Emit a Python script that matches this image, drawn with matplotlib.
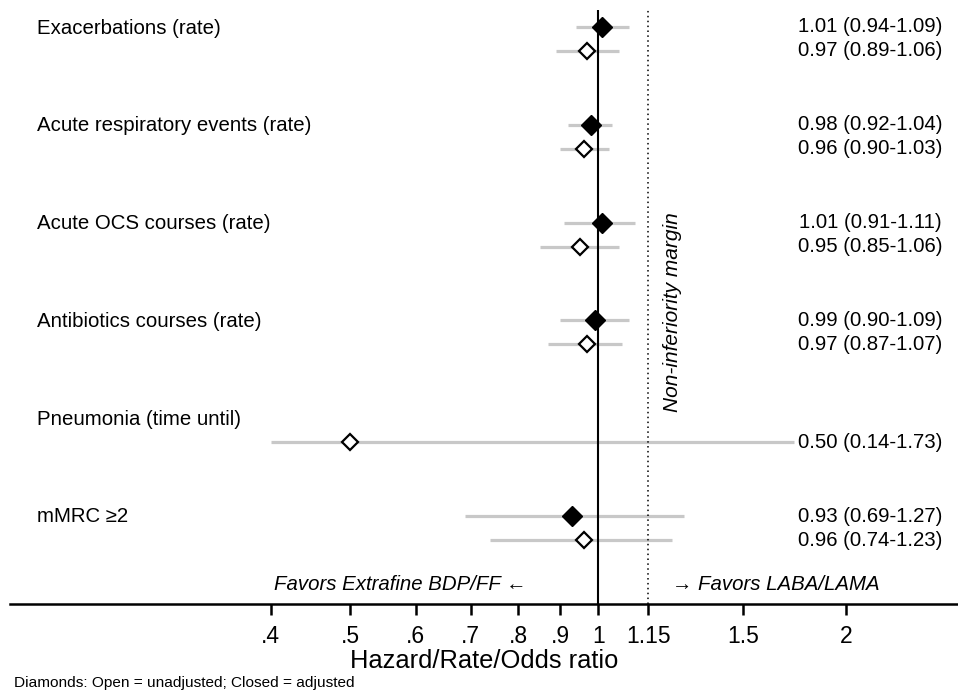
import numpy as np
import matplotlib
matplotlib.use("Agg")
import matplotlib.pyplot as plt
from matplotlib.transforms import blended_transform_factory

plt.rcParams['font.family'] = ['Liberation Sans', 'DejaVu Sans']

# outcomes and estimates
outcomes = ["Exacerbations (rate)", "Acute respiratory events (rate)",
            "Acute OCS courses (rate)", "Antibiotics courses (rate)",
            "Pneumonia (time until)", "mMRC \u22652"]

# adjusted (closed diamonds); None = not reported
adj_est = [1.01, 0.98, 1.01, 0.99, None, 0.93]
adj_lo = [0.94, 0.92, 0.91, 0.90, None, 0.69]
adj_hi = [1.09, 1.04, 1.11, 1.09, None, 1.27]

# unadjusted (open diamonds)
unadj_est = [0.97, 0.96, 0.95, 0.97, 0.50, 0.96]
unadj_lo = [0.89, 0.90, 0.85, 0.87, 0.14, 0.74]
unadj_hi = [1.06, 1.03, 1.06, 1.07, 1.73, 1.23]

margin = 1.15
ticks = [0.4, 0.5, 0.6, 0.7, 0.8, 0.9, 1, 1.15, 1.5, 2]
tick_labels = [".4", ".5", ".6", ".7", ".8", ".9", "1", "1.15", "1.5", "2"]

x_min_shown = 0.4  # CIs are cut at the left end of the scale

fig = plt.figure(figsize=(9.58, 6.94), dpi=100)
ax = fig.add_axes([10 / 958, 90 / 694, 948 / 958, 594 / 694])
ax.set_xscale('log')
ax.set_xlim(0.193, 2.736)
ax.set_ylim(594, 0)

# x in figure fraction, y in data
fx = blended_transform_factory(fig.transFigure, ax.transData)

grey = '#c8c8c8'
fs = 14.7
step = 97.8
for i, name in enumerate(outcomes):
    y0 = 18 + i * step
    ax.text(37 / 958, y0, name, fontsize=fs, va='center', ha='left', transform=fx)
    y_adj = y0 - 1
    y_un = y0 + 23
    if adj_est[i] is not None:
        ax.plot([max(adj_lo[i], x_min_shown), adj_hi[i]], [y_adj, y_adj],
                color=grey, lw=2.3, solid_capstyle='butt', zorder=1)
        ax.plot(adj_est[i], y_adj, marker='D', ms=10, color='black', zorder=3)
        ax.text(942 / 958, y_adj, f"{adj_est[i]:.2f} ({adj_lo[i]:.2f}-{adj_hi[i]:.2f})",
                fontsize=fs, ha='right', va='center', transform=fx)
    ax.plot([max(unadj_lo[i], x_min_shown), unadj_hi[i]], [y_un, y_un],
            color=grey, lw=2.3, solid_capstyle='butt', zorder=1)
    ax.plot(unadj_est[i], y_un, marker='D', ms=8.5, mfc='white', mec='black',
            mew=1.6, zorder=3)
    ax.text(942 / 958, y_un, f"{unadj_est[i]:.2f} ({unadj_lo[i]:.2f}-{unadj_hi[i]:.2f})",
            fontsize=fs, ha='right', va='center', transform=fx)

ax.axvline(1, color='black', lw=1.5, zorder=2)
ax.axvline(margin, color='black', lw=1.1, ls=(0, (1, 2.2)), zorder=2)
ax.text(672 / 958, 302, "Non-inferiority margin", rotation=90, style='italic',
        fontsize=15, ha='center', va='center', transform=fx)

ax.text(526 / 958, 575, "Favors Extrafine BDP/FF \u2190", style='italic',
        fontsize=fs, ha='right', va='center', transform=fx)
ax.text(672 / 958, 575, "\u2192 Favors LABA/LAMA", style='italic',
        fontsize=fs, ha='left', va='center', transform=fx)

for s in ['top', 'right', 'left']:
    ax.spines[s].set_visible(False)
ax.spines['bottom'].set_linewidth(1.8)
ax.set_yticks([])
ax.set_xticks(ticks)
ax.set_xticklabels(tick_labels)
ax.xaxis.set_minor_locator(matplotlib.ticker.NullLocator())
ax.tick_params(axis='x', direction='out', length=8, width=1.8, labelsize=16.5, pad=7)
ax.set_xlabel("Hazard/Rate/Odds ratio", fontsize=18.4, labelpad=1)

fig.text(14 / 958, 11 / 694, "Diamonds: Open = unadjusted; Closed = adjusted",
         fontsize=11.1, ha='left', va='center')

fig.savefig("out.png", dpi=100)
